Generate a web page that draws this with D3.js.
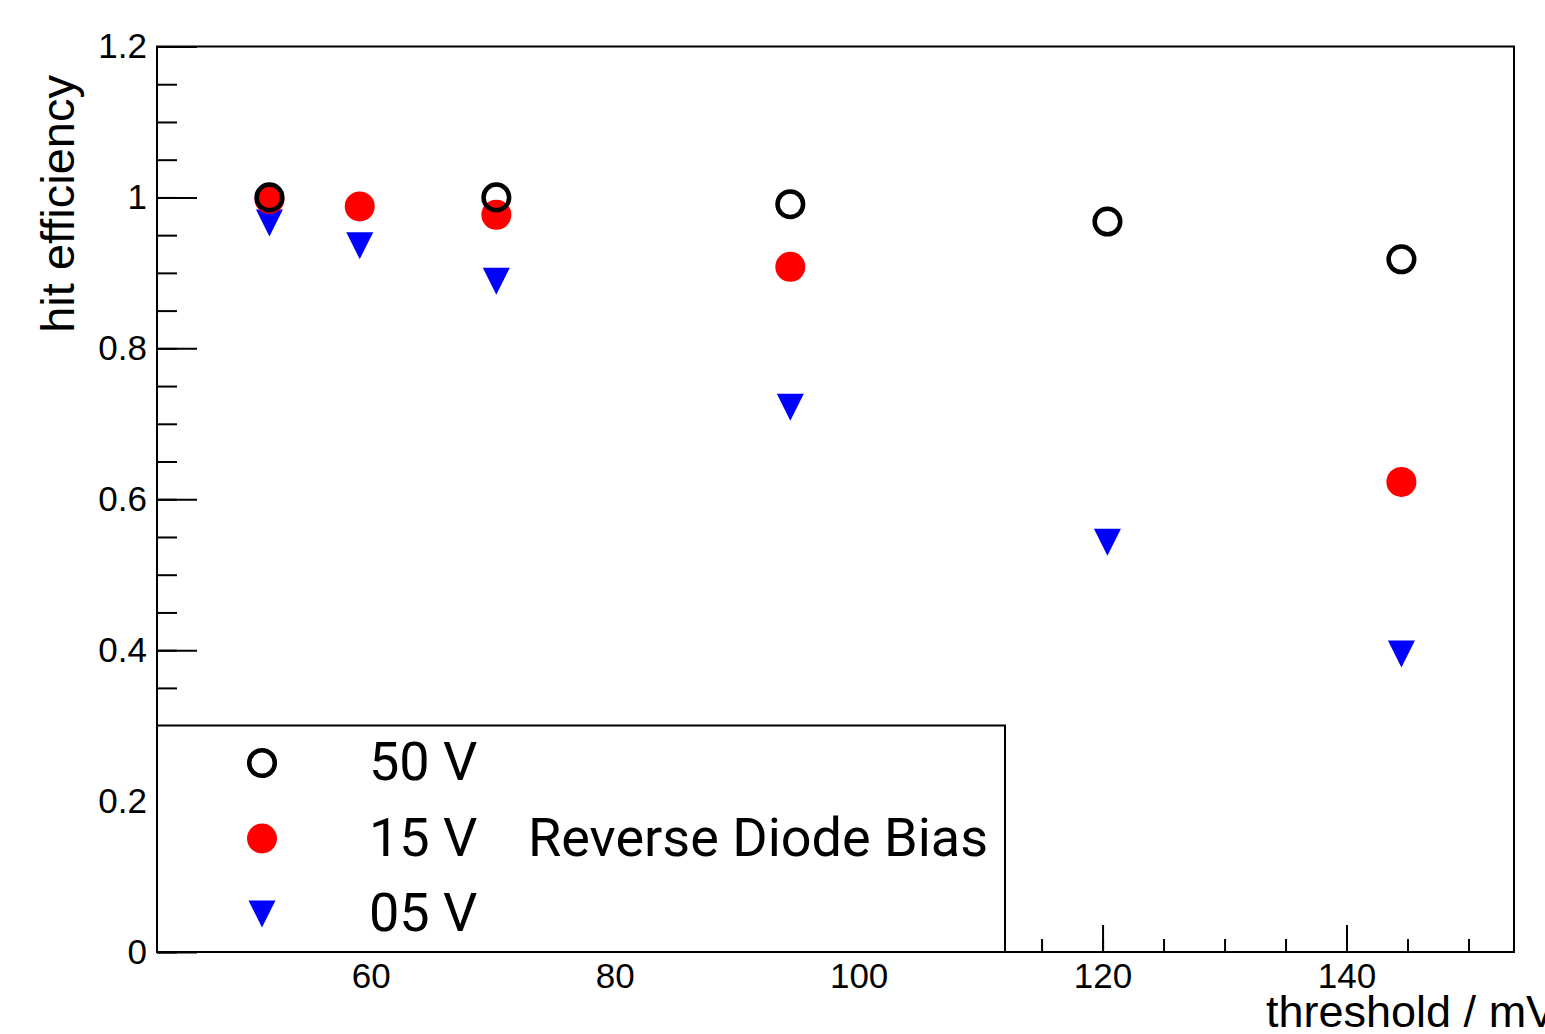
<!DOCTYPE html>
<html>
<head>
<meta charset="utf-8">
<script src="https://cdn.jsdelivr.net/npm/d3@7"></script>
<style>
  body { margin: 0; background: #fff; }
  svg { display: block; overflow: hidden; }
  .tick text { font-family: "Liberation Sans", Arial, sans-serif; font-size: 35px; fill: #000; }
</style>
</head>
<body>
<svg id="chart"></svg>
<script>
// data
const seriesNames = ["50 V", "15 V", "05 V"];
const thr50 = [51.7, 70.3, 94.4, 120.4, 144.5];
const eff50 = [1.0, 1.0, 0.991, 0.968, 0.918];
const thr15 = [51.7, 59.1, 70.3, 94.4, 144.5];
const eff15 = [0.998, 0.988, 0.977, 0.908, 0.623];
const thr05 = [51.7, 59.1, 70.3, 94.4, 120.4, 144.5];
const eff05 = [0.966, 0.936, 0.889, 0.722, 0.543, 0.395];
const xTicks = [60, 80, 100, 120, 140];
const yTicks = [0, 0.2, 0.4, 0.6, 0.8, 1, 1.2];

const W = 1545, H = 1034;
const frameL = 157, frameR = 1514, frameT = 46.5, frameB = 952;

const svg = d3.select('#chart').attr('width', W).attr('height', H);
svg.append('rect').attr('width', W).attr('height', H).attr('fill', '#fff');

const x = d3.scaleLinear().domain([42.48, 153.73]).range([frameL, frameR]);
const y = d3.scaleLinear().domain([0, 1.2]).range([frameB, frameT]);

// minor ticks
svg.append('g')
    .attr('transform', `translate(0,${frameB})`)
    .call(d3.axisBottom(x).tickValues(d3.range(45, 155, 5)).tickSize(-13).tickSizeOuter(0).tickFormat(''))
    .call(g => g.select('.domain').remove())
    .call(g => g.selectAll('line').attr('stroke-width', 2));
svg.append('g')
    .attr('transform', `translate(${frameL},0)`)
    .call(d3.axisLeft(y).tickValues(d3.range(0, 1.2001, 0.05)).tickSize(-20).tickSizeOuter(0).tickFormat(''))
    .call(g => g.select('.domain').remove())
    .call(g => g.selectAll('line').attr('stroke-width', 2));

// major ticks + labels
svg.append('g')
    .attr('transform', `translate(0,${frameB})`)
    .call(d3.axisBottom(x).tickValues(xTicks).tickSize(-27).tickSizeOuter(0).tickPadding(11).tickFormat(d3.format('d')))
    .call(g => g.select('.domain').remove())
    .call(g => g.selectAll('line').attr('stroke-width', 2));
svg.append('g')
    .attr('transform', `translate(${frameL},0)`)
    .call(d3.axisLeft(y).tickValues(yTicks).tickSize(-40).tickSizeOuter(0).tickPadding(10).tickFormat(d => String(+d.toFixed(1))))
    .call(g => g.select('.domain').remove())
    .call(g => g.selectAll('line').attr('stroke-width', 2));

// frame
svg.append('rect')
    .attr('x', frameL).attr('y', frameT)
    .attr('width', frameR - frameL).attr('height', frameB - frameT)
    .attr('fill', 'none').attr('stroke', '#000').attr('stroke-width', 2);

// titles
svg.append('text')
    .attr('transform', `translate(73.5,75) rotate(-90)`)
    .attr('text-anchor', 'end')
    .style('font-family', '"Liberation Sans", Arial, sans-serif')
    .style('font-size', '47px')
    .text('hit efficiency');
svg.append('text')
    .attr('x', 1266).attr('y', 1027)
    .style('font-family', '"Liberation Sans", Arial, sans-serif')
    .style('font-size', '45px')
    .text('threshold / mV');

// markers
function triPath(cx, cy, s) {
    return `M${cx - s},${cy - s}L${cx + s},${cy - s}L${cx},${cy + s}Z`;
}
const pts05 = thr05.map((t, i) => [t, eff05[i]]);
const pts15 = thr15.map((t, i) => [t, eff15[i]]);
const pts50 = thr50.map((t, i) => [t, eff50[i]]);

svg.append('g').selectAll('path').data(pts05).join('path')
    .attr('d', d => triPath(x(d[0]), y(d[1]), 13.5))
    .attr('fill', '#0000ff');
svg.append('g').selectAll('circle').data(pts15).join('circle')
    .attr('cx', d => x(d[0])).attr('cy', d => y(d[1])).attr('r', 15)
    .attr('fill', '#ff0000');
svg.append('g').selectAll('circle').data(pts50).join('circle')
    .attr('cx', d => x(d[0])).attr('cy', d => y(d[1])).attr('r', 12.8)
    .attr('fill', 'none').attr('stroke', '#000').attr('stroke-width', 4.5);

// legend
const leg = svg.append('g');
leg.append('rect')
    .attr('x', frameL).attr('y', 725.5)
    .attr('width', 1005 - frameL).attr('height', frameB - 725.5)
    .attr('fill', '#fff').attr('stroke', '#000').attr('stroke-width', 2);
const rowY = [763, 838.5, 914];
const mx = 262;
leg.append('circle').attr('cx', mx).attr('cy', rowY[0]).attr('r', 12.8)
    .attr('fill', 'none').attr('stroke', '#000').attr('stroke-width', 4.5);
leg.append('circle').attr('cx', mx).attr('cy', rowY[1]).attr('r', 15).attr('fill', '#ff0000');
leg.append('path').attr('d', triPath(mx, rowY[2], 13.5)).attr('fill', '#0000ff');
leg.selectAll('text.lab').data(seriesNames).join('text')
    .attr('class', 'lab')
    .attr('x', 369).attr('y', (d, i) => rowY[i] + 17)
    .style('font-family', 'Roboto, sans-serif')
    .style('font-size', '54px')
    .text(d => d);
leg.append('text')
    .attr('x', 528).attr('y', rowY[1] + 17)
    .style('font-family', 'Roboto, sans-serif')
    .style('font-size', '54px')
    .text('Reverse Diode Bias');
</script>
</body>
</html>
